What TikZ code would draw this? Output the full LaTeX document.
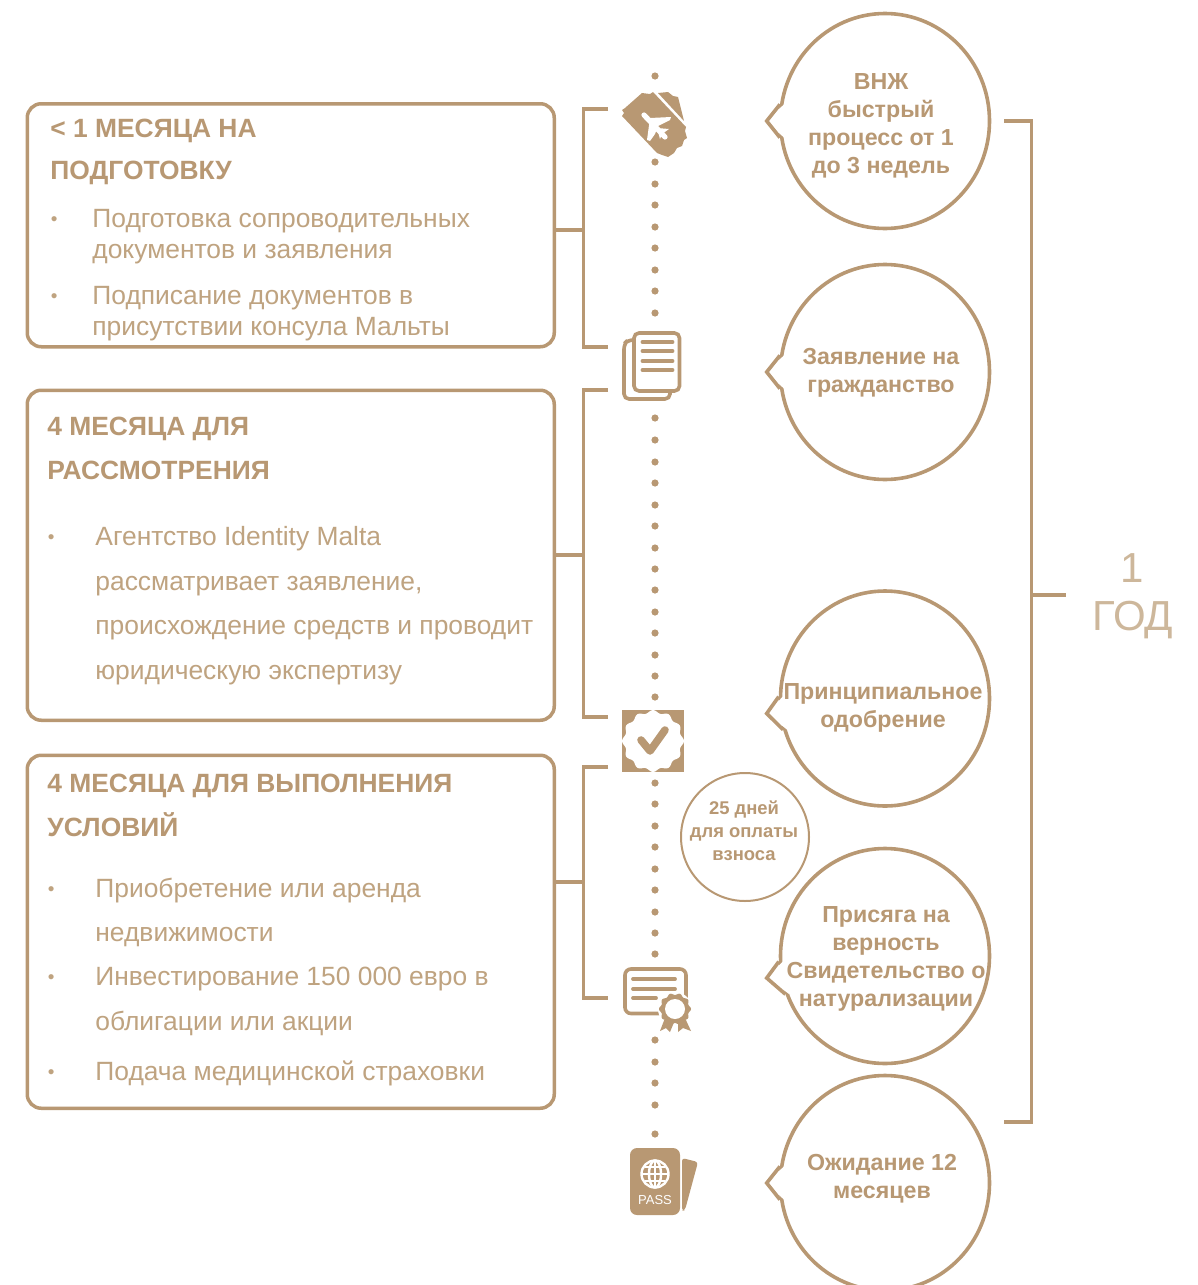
\documentclass[tikz,border=0pt]{standalone}
\usepackage{fontspec}
\setmainfont{Liberation Sans}
\usetikzlibrary{shapes.geometric,calc}
\definecolor{gold}{HTML}{B89873}
\definecolor{goldtxt}{HTML}{BFA380}
\definecolor{goldthin}{HTML}{CDB79B}
\tikzset{
  x=0.5pt,y=-0.5pt,
  frame/.style={draw=gold,line width=1.75pt,rounded corners=7pt,fill=white,inner sep=0pt,anchor=north west},
  conn/.style={draw=gold,line width=1.7pt},
  bubble/.style={ellipse,draw=gold,line width=1.8pt,fill=white,minimum width=104.5pt,minimum height=107.5pt,inner sep=0pt},
  bubbletext/.style={text=gold,font=\fontsize{11.6}{14}\selectfont\bfseries,align=center,inner sep=0pt},
  headtxt/.style={text=gold,font=\fontsize{13.2}{14}\selectfont\bfseries,anchor=base west,inner sep=0pt},
  bodytxt/.style={text=goldtxt,font=\fontsize{13.2}{14}\selectfont,anchor=base west,inner sep=0pt},
  bullettxt/.style={text=goldtxt,font=\fontsize{9.5}{10}\selectfont,anchor=base west,inner sep=0pt},
  icon/.style={fill=gold,draw=none},
  iconline/.style={draw=gold,line width=1.9pt,line cap=round},
}
\newcommand{\pointer}[4]{% node, from angle, to angle, tip y offset
  \fill[white] ($(#1.#2)+(4,0)$) -- ($(#1.west)+(-12,#4)$) -- ($(#1.#3)+(4,0)$) -- cycle;
  \draw[conn,line width=1.8pt,line join=miter] (#1.#2) -- ($(#1.west)+(-12,#4)$) -- (#1.#3);
}
\begin{document}
\begin{tikzpicture}
\useasboundingbox (0,0) rectangle (1198,1285);
\clip (0,0) rectangle (1198,1285);
% dots
\foreach \y in {76,162,184,205,227,248,270,291,313,418,440,462,483,505,526,548,569,590,612,633,655,676,697,783,804,826,847,869,890,912,933,954,1040,1062,1083,1105,1134}
  \fill[gold] (655,\y) circle[radius=3.6];
% boxes
\node[frame,minimum width=263.5pt,minimum height=121.5pt] (box1) at (25.5,102) {};
\node[frame,minimum width=263.5pt,minimum height=165pt] (box2) at (25.5,388.5) {};
\node[frame,minimum width=263.5pt,minimum height=176.5pt] (box3) at (25.5,753.5) {};
% bracket coordinates
\coordinate (b1a) at (608,109); \coordinate (b1b) at (608,347);
\coordinate (b2a) at (608,390); \coordinate (b2b) at (608,717);
\coordinate (b3a) at (608,767); \coordinate (b3b) at (608,998);
\draw[conn] (b1a) -- (583.5,109) -- (583.5,347) -- (b1b);
\draw[conn] (box1.east |- 0,230) -- (583.5,230);
\draw[conn] (b2a) -- (583.5,390) -- (583.5,717) -- (b2b);
\draw[conn] (box2.east |- 0,555) -- (583.5,555);
\draw[conn] (b3a) -- (583.5,767) -- (583.5,998) -- (b3b);
\draw[conn] (box3.east |- 0,882) -- (583.5,882);
% right bracket
\coordinate (ra) at (1004,121); \coordinate (rb) at (1004,1122); \coordinate (rs) at (1066,595);
\draw[conn] (ra) -- (1031.5,121) -- (1031.5,1122) -- (rb);
\draw[conn,line width=2.2pt] (1031.5,595) -- (rs);
\node[text=goldthin,font=\fontsize{21}{24}\selectfont,inner sep=0pt] (one) at (1132,568) {1};
\node[text=goldthin,font=\fontsize{21}{24}\selectfont,inner sep=0pt] (year) at (1133,620) {ГОД};
% box 1 text
\node[headtxt] (h1a) at (50,137) {< 1 МЕСЯЦА НА};
\node[headtxt] (h1b) at (50,179) {ПОДГОТОВКУ};
\node[bullettxt] (p1) at (50.5,225) {•};
\node[bodytxt] (t1a) at (92,227) {Подготовка сопроводительных};
\node[bodytxt] (t1b) at (92,258) {документов и заявления};
\node[bullettxt] (p2) at (50.5,302) {•};
\node[bodytxt] (t1c) at (92,304) {Подписание документов в};
\node[bodytxt] (t1d) at (92,335) {присутствии консула Мальты};
% box 2 text
\node[headtxt] (h2a) at (47,435) {4 МЕСЯЦА ДЛЯ};
\node[headtxt] (h2b) at (47,479) {РАССМОТРЕНИЯ};
\node[bullettxt] (p3) at (47.5,543) {•};
\node[bodytxt] (t2a) at (95,545) {Агентство Identity Malta};
\node[bodytxt] (t2b) at (95,590) {рассматривает заявление,};
\node[bodytxt] (t2c) at (95,634) {происхождение средств и проводит};
\node[bodytxt] (t2d) at (95,679) {юридическую экспертизу};
% box 3 text
\node[headtxt] (h3a) at (47,792) {4 МЕСЯЦА ДЛЯ ВЫПОЛНЕНИЯ};
\node[headtxt] (h3b) at (47,836) {УСЛОВИЙ};
\node[bullettxt] (p4) at (47.5,895) {•};
\node[bodytxt] (t3a) at (95,897) {Приобретение или аренда};
\node[bodytxt] (t3b) at (95,941) {недвижимости};
\node[bullettxt] (p5) at (47.5,983) {•};
\node[bodytxt] (t3c) at (95,985) {Инвестирование 150 000 евро в};
\node[bodytxt] (t3d) at (95,1030) {облигации или акции};
\node[bullettxt] (p6) at (47.5,1078) {•};
\node[bodytxt] (t3e) at (95,1080) {Подача медицинской страховки};
% bubbles
\node[bubble] (c1) at (885,121) {};
\node[bubble] (c2) at (885,372) {};
\node[bubble] (c3) at (885,698.5) {};
\node[bubble] (c4) at (885,956) {};
\node[bubble] (c5) at (885,1183) {};
\pointer{c1}{171}{189}{0}
\pointer{c2}{171}{189}{0}
\pointer{c3}{179}{197}{15}
\pointer{c4}{183}{201}{22}
\pointer{c5}{171}{189}{0}
\node[bubbletext] (l1) at (881,126) {ВНЖ\\быстрый\\процесс от 1\\до 3 недель};
\node[bubbletext] (l2) at (881,373) {Заявление на\\гражданство};
\node[bubbletext] (l3) at (883,708) {Принципиальное\\одобрение};
\node[bubbletext] (l4) at (886,959) {Присяга на\\верность\\Свидетельство о\\натурализации};
\node[bubbletext] (l5) at (882,1179) {Ожидание 12\\месяцев};
% small bubble
\node[circle,draw=gold,line width=1pt,fill=white,minimum size=64pt,inner sep=0pt] (c6) at (745,837) {};
\node[bubbletext,font=\fontsize{9.2}{11.5}\selectfont\bfseries] (l6) at (744,830.5) {25 дней\\для оплаты\\взноса};
% icon: ticket
\fill[icon] (622,110) -- (625,108) -- (642,93) -- (650,94) -- (653,92) -- (686,127) -- (685,131) -- (687,138) -- (684,140) -- (682,146) -- (677,148) -- (674,153) -- (668,157) -- (662,155) -- (657,153) -- (622,116) -- (624,113) -- cycle;
\fill[icon] (658,93) -- (668,92) -- (673,96) -- (678,97) -- (684,121) -- cycle;
\draw[white,line width=2.6pt,line cap=round,line join=round] (644,115) -- (665,137);
\fill[white] (650,118) -- (671,117) -- (670,120) -- (658,126) -- (655,134) -- (650,141) -- (647,140) -- cycle;
\fill[white] (657,128) -- (669,129) -- (662,134) -- (660,139) -- cycle;
% icon: documents
\draw[gold,line width=1.8pt,rounded corners=2.5pt] (635,340) -- (628,340) -- (624,344) -- (624,399) -- (670,399) -- (670,391);
\draw[gold,line width=1.8pt,rounded corners=2.5pt,fill=white] (634,333) rectangle (679.5,391);
\foreach \y in {342,351,361,370} \draw[iconline] (642.5,\y) -- (672.5,\y);
% icon: approval
\fill[gold] (622,710) rectangle (684,772);
\fill[white] plot[smooth cycle,samples=96,domain=0:356.25,variable=\t] ({653+(29.5+1.5*cos(12*\t))*cos(\t)},{741+(29.5+1.5*cos(12*\t))*sin(\t)});
\draw[gold,line width=3.8pt,line cap=round,line join=round] (641,740) -- (650,751) -- (665,730);
% icon: certificate
\draw[gold,line width=1.8pt,rounded corners=3pt] (625,969) rectangle (686,1013.5);
\draw[iconline] (633,979) -- (675,979);
\draw[iconline] (633,989) -- (675,989);
\draw[iconline] (633,998) -- (656,998);
\fill[white] (675,1009) circle[radius=17];
\fill[icon] (665,1018) -- (660,1031) -- (666,1028) -- (670,1032) -- (675,1020) -- cycle;
\fill[icon] (678,1018) -- (678,1032) -- (683,1028) -- (691,1031) -- (685,1018) -- cycle;
\fill[gold] plot[smooth cycle,samples=96,domain=0:356.25,variable=\t] ({675+(15+1*cos(10*\t))*cos(\t)},{1009+(15+1*cos(10*\t))*sin(\t)});
\fill[white] (675,1009) circle[radius=10];
% icon: passport
\fill[icon,rounded corners=1.5pt] (682,1158) -- (698,1162) -- (685,1210) -- (682,1211) -- cycle;
\fill[icon,rounded corners=3.5pt] (630,1148) rectangle (680,1215);
\begin{scope}[white,line width=1.2pt]
  \draw (655,1174) circle[radius=13.5];
  \draw (655,1174) ellipse[x radius=6,y radius=13.5];
  \draw (655,1161) -- (655,1187);
  \draw (642,1174) -- (668,1174);
  \draw (645,1167) -- (665,1167);
  \draw (645,1181) -- (665,1181);
\end{scope}
\node[text=white,font=\fontsize{6.5}{9}\selectfont,inner sep=0pt] (pass) at (655,1200) {PASS};
\end{tikzpicture}
\end{document}
